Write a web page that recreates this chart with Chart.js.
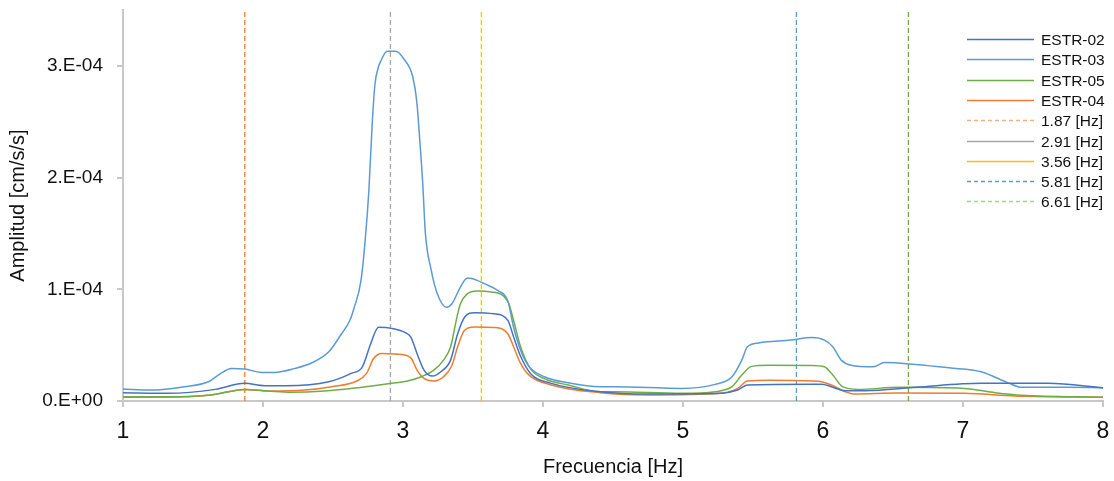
<!DOCTYPE html>
<html>
<head>
<meta charset="utf-8">
<script src="https://cdn.jsdelivr.net/npm/chart.js@4/dist/chart.umd.min.js"></script>
<style>
  html, body { margin: 0; padding: 0; background: #ffffff; }
  canvas { display: block; }
</style>
</head>
<body>
<canvas id="c" width="1114" height="481"></canvas>
<script>
// ---- Data (amplitudes in units of 1e-4 cm/s/s) ----
const estr02Freq = [1.00,1.32,1.66,1.87,2.01,2.16,2.47,2.63,2.71,2.77,2.825,2.92,3.02,3.055,3.10,3.15,3.21,3.27,3.34,3.39,3.44,3.51,3.65,3.75,3.79,3.84,3.91,4.06,4.41,4.75,5.27,5.39,5.46,5.92,5.99,6.06,6.16,6.30,6.66,7.13,7.61,8.00];
const estr02Amp  = [0.074,0.069,0.104,0.158,0.137,0.137,0.172,0.247,0.306,0.515,0.66,0.65,0.61,0.574,0.426,0.277,0.223,0.262,0.366,0.60,0.75,0.79,0.78,0.72,0.574,0.40,0.247,0.158,0.083,0.0625,0.069,0.098,0.143,0.149,0.149,0.128,0.092,0.092,0.122,0.158,0.158,0.119];

const estr03Freq = [1.00,1.20,1.44,1.61,1.68,1.775,1.87,1.99,2.085,2.23,2.35,2.47,2.56,2.62,2.65,2.70,2.73,2.756,2.78,2.80,2.82,2.84,2.888,2.947,3.007,3.07,3.10,3.12,3.14,3.16,3.20,3.245,3.31,3.35,3.41,3.46,3.53,3.58,3.675,3.75,3.79,3.84,3.90,4.01,4.18,4.41,4.51,4.99,5.23,5.35,5.42,5.46,5.54,5.77,5.92,6.01,6.07,6.13,6.20,6.36,6.44,6.66,6.90,7.13,7.33,7.42,7.73,8.00];
const estr03Amp  = [0.107,0.098,0.128,0.172,0.232,0.292,0.286,0.256,0.256,0.292,0.342,0.44,0.60,0.72,0.83,1.08,1.44,1.88,2.48,2.84,2.97,3.04,3.13,3.13,3.06,2.90,2.66,2.33,1.97,1.50,1.18,0.96,0.84,0.87,1.02,1.10,1.08,1.05,0.99,0.89,0.66,0.455,0.31,0.217,0.163,0.128,0.128,0.113,0.149,0.217,0.366,0.485,0.52,0.545,0.568,0.545,0.485,0.366,0.32,0.306,0.345,0.327,0.297,0.262,0.158,0.122,0.122,0.119];

const estr05Freq = [1.00,1.32,1.63,1.87,2.04,2.20,2.44,2.68,2.92,3.04,3.13,3.22,3.29,3.34,3.38,3.41,3.46,3.53,3.63,3.75,3.79,3.84,3.91,4.01,4.18,4.41,4.51,4.99,5.23,5.35,5.42,5.49,5.61,5.92,6.01,6.07,6.14,6.25,6.54,7.01,7.23,7.42,8.00];
const estr05Amp  = [0.038,0.038,0.054,0.104,0.089,0.078,0.089,0.119,0.158,0.181,0.217,0.277,0.366,0.485,0.72,0.87,0.96,0.985,0.976,0.89,0.72,0.485,0.29,0.20,0.143,0.083,0.083,0.069,0.083,0.128,0.232,0.31,0.32,0.318,0.306,0.232,0.128,0.104,0.122,0.113,0.074,0.051,0.033];

const estr04Freq = [1.00,1.32,1.63,1.87,2.04,2.30,2.49,2.67,2.74,2.79,2.85,2.945,3.04,3.06,3.10,3.15,3.22,3.29,3.35,3.39,3.44,3.51,3.65,3.75,3.79,3.84,3.90,4.06,4.41,4.75,5.27,5.39,5.46,5.61,5.92,5.99,6.06,6.16,6.22,6.54,7.01,7.37,8.00];
const estr04Amp  = [0.033,0.033,0.054,0.104,0.089,0.098,0.128,0.179,0.247,0.38,0.426,0.42,0.40,0.38,0.277,0.202,0.179,0.217,0.32,0.485,0.634,0.663,0.658,0.60,0.485,0.337,0.232,0.143,0.074,0.054,0.069,0.113,0.179,0.185,0.179,0.172,0.143,0.083,0.0625,0.071,0.069,0.045,0.033];

const seriesNames  = ['ESTR-02','ESTR-03','ESTR-05','ESTR-04'];
const seriesColors = ['#4472C4','#5B9BD5','#70AD47','#ED7D31'];

const markerFreqs  = [1.87, 2.91, 3.56, 5.81, 6.61];
const markerColors = ['#ED7D31','#A5A5A5','#FFC000','#5B9BD5','#70AD47'];
const markerLegendColors = ['#F4B183','#A5A5A5','#FFC000','#5B9BD5','#A9D18E'];
const markerLegendDashed = [true,false,false,true,true];

const xTicks = [1,2,3,4,5,6,7,8];
const yTickValues = [0, 1, 2, 3]; // x 1e-4

const UNIT = 1e-4;
const Y_MAX = 3.5 * UNIT;

// ---- build datasets ----
function pts(fs, as) { return fs.map((f, i) => ({ x: f, y: as[i] * UNIT })); }
const seriesData = [pts(estr02Freq, estr02Amp), pts(estr03Freq, estr03Amp), pts(estr05Freq, estr05Amp), pts(estr04Freq, estr04Amp)];

const datasets = [];
markerFreqs.forEach((f, i) => {
  datasets.push({
    label: f.toFixed(2) + ' [Hz]',
    data: [{ x: f, y: 0 }, { x: f, y: Y_MAX }],
    borderColor: markerColors[i],
    borderWidth: 1.3,
    borderDash: [5, 3],
    pointRadius: 0,
    tension: 0,
    order: 5
  });
});
seriesNames.forEach((n, i) => {
  datasets.push({
    label: n,
    data: seriesData[i],
    borderColor: seriesColors[i],
    borderWidth: 1.5,
    pointRadius: 0,
    cubicInterpolationMode: 'monotone',
    order: i
  });
});

const FONT = "'Liberation Sans', Arial, sans-serif";
const TXT = '#111111';
const AXIS = '#C8C8C8';

const legendPlugin = {
  id: 'customLegend',
  afterDraw(chart) {
    const ctx = chart.ctx;
    const items = [];
    seriesNames.forEach((n, i) => items.push({ text: n, color: seriesColors[i], dash: false, w: 1.6 }));
    markerFreqs.forEach((f, i) => items.push({ text: f.toFixed(2) + ' [Hz]', color: markerLegendColors[i], dash: markerLegendDashed[i], w: 1.3 }));
    const x1 = 967, x2 = 1034, tx = 1041, y0 = 39, dy = 20.3;
    ctx.save();
    ctx.font = '15.5px ' + FONT;
    ctx.textBaseline = 'middle';
    ctx.textAlign = 'left';
    items.forEach((it, k) => {
      const y = Math.round(y0 + k * dy) + 0.5;
      ctx.beginPath();
      ctx.setLineDash(it.dash ? [4, 3] : []);
      ctx.strokeStyle = it.color;
      ctx.lineWidth = it.w;
      ctx.moveTo(x1, y);
      ctx.lineTo(x2, y);
      ctx.stroke();
      ctx.setLineDash([]);
      ctx.fillStyle = TXT;
      ctx.fillText(it.text, tx, y + 1);
    });
    ctx.restore();
  }
};

new Chart(document.getElementById('c'), {
  type: 'line',
  data: { datasets },
  options: {
    responsive: false,
    animation: false,
    devicePixelRatio: 1,
    layout: { padding: { top: 10, right: 11, left: 0, bottom: 0 } },
    plugins: { legend: { display: false }, tooltip: { enabled: false } },
    scales: {
      x: {
        type: 'linear',
        min: 1, max: 8,
        afterFit(s) { s.height = 80; s.paddingLeft = 0; s.paddingRight = 0; },
        afterBuildTicks(s) { s.ticks = xTicks.map(v => ({ value: v })); },
        ticks: { color: TXT, font: { family: FONT, size: 23 }, padding: 11, maxRotation: 0 },
        grid: { display: true, drawOnChartArea: false, drawTicks: true, tickLength: 6, color: AXIS, lineWidth: 2 },
        border: { display: true, color: AXIS, width: 2 },
        title: { display: true, text: 'Frecuencia [Hz]', color: TXT, font: { family: FONT, size: 20 }, padding: { top: 0, bottom: 2 } }
      },
      y: {
        type: 'linear',
        min: 0, max: Y_MAX,
        afterFit(s) { s.width = 123; s.paddingTop = 0; s.paddingBottom = 0; },
        afterBuildTicks(s) { s.ticks = yTickValues.map(v => ({ value: v * UNIT })); },
        ticks: {
          color: TXT, font: { family: FONT, size: 19 }, padding: 14,
          callback(v) { const m = Math.round(v / UNIT); return m === 0 ? '0.E+00' : m + '.E-04'; }
        },
        grid: { display: true, drawOnChartArea: false, drawTicks: true, tickLength: 6, color: AXIS, lineWidth: 2 },
        border: { display: true, color: AXIS, width: 2 },
        title: { display: true, text: 'Amplitud [cm/s/s]', color: TXT, font: { family: FONT, size: 20 }, padding: { top: 6, bottom: 0 } }
      }
    }
  },
  plugins: [legendPlugin]
});
</script>
</body>
</html>
